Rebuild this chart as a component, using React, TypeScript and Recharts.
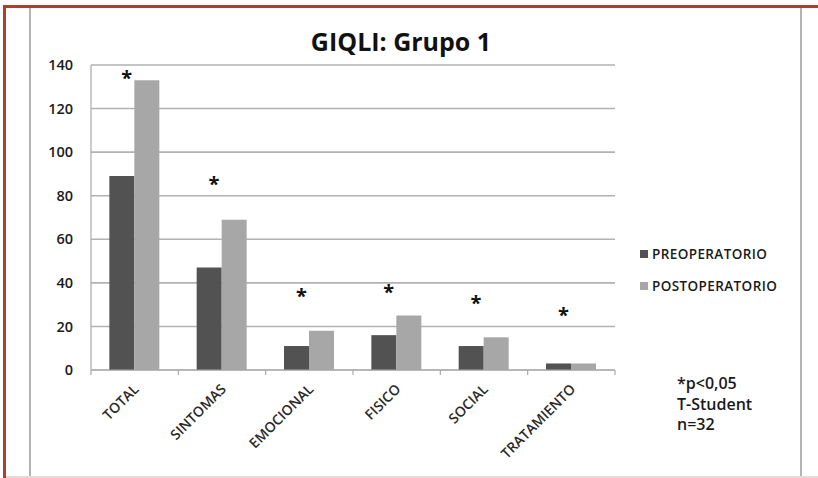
import React from 'react';
import { ComposedChart, Bar, Scatter, XAxis, YAxis, CartesianGrid } from 'recharts';

// GIQLI scores, group 1 — before and after surgery
const categories = ['TOTAL', 'SINTOMAS', 'EMOCIONAL', 'FISICO', 'SOCIAL', 'TRATAMIENTO'];
const preoperatorio = [89, 47, 11, 16, 11, 3];
const postoperatorio = [133, 69, 18, 25, 15, 3];
// height at which the significance asterisk sits for each domain
const significancia = [136, 87, 36, 37.5, 32.5, 27];
const yTicks = [0, 20, 40, 60, 80, 100, 120, 140];
const seriesNames = ['PREOPERATORIO', 'POSTOPERATORIO'];
const notas = ['*p<0,05', 'T-Student', 'n=32'];

const COLOR_PRE = '#525252';
const COLOR_POST = '#a7a7a7';
const FONT = '"Open Sans", Lato, sans-serif';

const rows = categories.map((c, i) => ({
  name: c,
  pre: preoperatorio[i],
  post: postoperatorio[i],
  sig: significancia[i],
}));

const CategoryTick = (props: any) => {
  const { x, y, payload, index, visibleTicksCount } = props;
  const half = payload && payload.offset ? payload.offset : 0;
  const last = index === (visibleTicksCount ?? categories.length) - 1;
  const ax = x + 5;
  const ay = y + 12;
  return (
    <g>
      <line x1={x - half} x2={x - half} y1={y - 8} y2={y - 3} stroke="#a9a9a9" strokeWidth={1.2} />
      {last && <line x1={x + half} x2={x + half} y1={y - 8} y2={y - 3} stroke="#a9a9a9" strokeWidth={1.2} />}
      <text
        x={ax}
        y={ay}
        transform={`rotate(-45 ${ax} ${ay})`}
        textAnchor="end"
        fontFamily={FONT}
        fontSize={14}
        fontWeight={600}
        fill="#2a2a2a"
      >
        {payload.value}
      </text>
    </g>
  );
};

const Asterisk = (props: any) => {
  const { cx, cy } = props;
  return (
    <text x={cx - 8} y={cy + 11} textAnchor="middle" fontFamily={FONT} fontSize={20} fontWeight={700} fill="#111">
      *
    </text>
  );
};

export default function App() {
  return (
    <div style={{ position: 'absolute', left: 0, top: 0, width: 818, height: 478, background: '#fff', overflow: 'hidden' }}>
      {/* page frame */}
      <div style={{ position: 'absolute', left: 3, top: 5, width: 815, height: 3, background: '#a8412f' }} />
      <div style={{ position: 'absolute', left: 3, top: 5, width: 3, height: 473, background: '#a8412f' }} />
      <div style={{ position: 'absolute', left: 29, top: 8, width: 2, height: 470, background: '#b4b4b4' }} />
      <div style={{ position: 'absolute', left: 800, top: 8, width: 2, height: 470, background: '#b4b4b4' }} />
      <div style={{ position: 'absolute', left: 6, top: 476, width: 812, height: 2, background: '#ecd6d2' }} />

      <div
        style={{
          position: 'absolute',
          left: 281,
          top: 24,
          width: 240,
          textAlign: 'center',
          fontFamily: FONT,
          fontWeight: 700,
          fontSize: 25,
          lineHeight: '34px',
          color: '#111',
        }}
      >
        GIQLI: Grupo 1
      </div>

      <div style={{ position: 'absolute', left: 0, top: 0 }}>
        <ComposedChart
          width={818}
          height={478}
          data={rows}
          margin={{ top: 65, right: 203, bottom: 0, left: 41 }}
          barCategoryGap="21%"
          barGap={0}
        >
          <CartesianGrid vertical={false} stroke="#b2b2b2" strokeWidth={1.6} />
          <XAxis
            dataKey="name"
            stroke="#a9a9a9"
            strokeWidth={1.2}
            tickLine={false}
            interval={0}
            tick={<CategoryTick />}
            height={108}
          />
          <YAxis
            domain={[0, 140]}
            ticks={yTicks}
            width={50}
            stroke="#a9a9a9"
            strokeWidth={1.2}
            tickLine={false}
            tickSize={0}
            tickMargin={18}
            tick={{ fontFamily: FONT, fontSize: 14.5, fontWeight: 600, fill: '#1a1a1a' }}
          />
          <Bar dataKey="pre" name={seriesNames[0]} fill={COLOR_PRE} isAnimationActive={false} />
          <Bar dataKey="post" name={seriesNames[1]} fill={COLOR_POST} isAnimationActive={false} />
          <Scatter dataKey="sig" shape={<Asterisk />} isAnimationActive={false} legendType="none" />
        </ComposedChart>
      </div>

      {/* legend */}
      <div style={{ position: 'absolute', left: 640, top: 245, fontFamily: FONT, fontSize: 13.5, fontWeight: 600, letterSpacing: 0.4, color: '#1a1a1a' }}>
        {seriesNames.map((n, i) => (
          <div key={n} style={{ display: 'flex', alignItems: 'center', height: 18, marginBottom: 14 }}>
            <span style={{ display: 'inline-block', width: 8, height: 8, background: i === 0 ? COLOR_PRE : COLOR_POST, marginRight: 4 }} />
            <span>{n}</span>
          </div>
        ))}
      </div>

      {/* statistical note */}
      <div style={{ position: 'absolute', left: 677, top: 373, fontFamily: FONT, fontSize: 16, fontWeight: 600, lineHeight: '20.5px', color: '#1a1a1a' }}>
        {notas.map((t) => (
          <div key={t}>{t}</div>
        ))}
      </div>
    </div>
  );
}
